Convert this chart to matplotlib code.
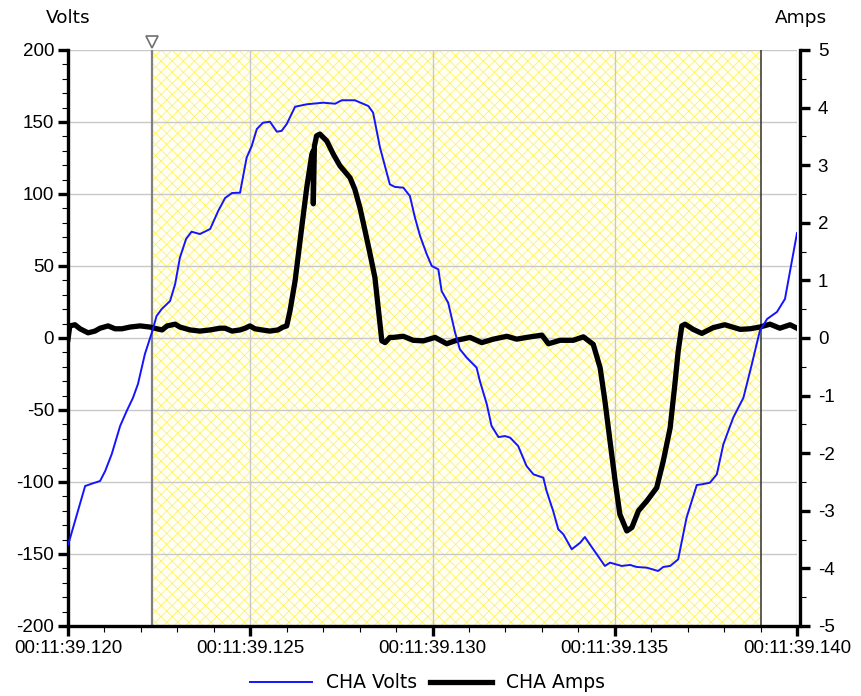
import matplotlib.pyplot as plt
import matplotlib.transforms as mtransforms

# time in ms after 00:11:39.120
volts_t = [0.01, 0.47, 0.65, 0.88, 1.02, 1.20, 1.43, 1.61, 1.78, 1.92, 2.11, 2.30, 2.43, 2.57,
           2.80, 2.94, 3.07, 3.24, 3.39, 3.62, 3.90, 4.12, 4.31, 4.50, 4.72, 4.90, 5.04, 5.18,
           5.35, 5.54, 5.73, 5.86, 6.00, 6.23, 6.55, 7.00, 7.33, 7.51, 7.87, 8.24, 8.37, 8.56,
           8.83, 8.97, 9.20, 9.38, 9.52, 9.66, 9.84, 9.98, 10.16, 10.25, 10.43, 10.62, 10.75,
           10.94, 11.21, 11.30, 11.49, 11.62, 11.81, 11.99, 12.13, 12.35, 12.58, 12.77, 13.04,
           13.13, 13.31, 13.45, 13.59, 13.82, 14.05, 14.18, 14.41, 14.73, 14.87, 15.19, 15.42,
           15.60, 15.88, 16.19, 16.33, 16.52, 16.74, 16.97, 17.25, 17.39, 17.61, 17.80, 17.98,
           18.25, 18.53, 18.76, 18.98, 19.18, 19.45, 19.67, 20.0]
volts = [-143.1, -102.8, -101.2, -99.3, -92.4, -80.6, -61.1, -50.7, -41.7, -31.9, -11.1, 3.7,
         15.3, 20.1, 25.7, 37.5, 55.8, 68.8, 73.8, 72.2, 75.7, 88.2, 97.2, 100.7, 100.9, 125.2,
         133.3, 145.1, 149.5, 150.2, 143.3, 143.8, 148.6, 160.6, 162.3, 163.4, 162.7, 165.1,
         165.1, 161.1, 156.5, 132.2, 106.7, 104.9, 104.4, 98.6, 83.5, 70.8, 58.3, 50.0, 47.7,
         32.6, 24.5, 3.7, -7.8, -13.7, -20.6, -29.9, -46.0, -61.1, -68.8, -68.1, -69.2, -75.0,
         -88.9, -94.7, -97.0, -106.3, -120.1, -132.8, -136.3, -146.7, -142.2, -138.2, -146.7,
         -158.3, -156.0, -158.3, -157.6, -159.0, -159.5, -161.8, -159.0, -158.3, -153.7, -124.8,
         -102.1, -101.6, -100.5, -94.7, -73.8, -55.3, -41.5, -18.3, 4.9, 13.2, 18.1, 27.1, 72.9]

amps_t = [0.0, 0.05, 0.19, 0.33, 0.55, 0.74, 0.88, 1.10, 1.29, 1.48, 1.70, 1.98, 2.25, 2.44,
          2.58, 2.72, 2.94, 3.07, 3.35, 3.62, 3.90, 4.17, 4.31, 4.50, 4.72, 4.86, 4.99, 5.13,
          5.32, 5.54, 5.76, 5.90, 6.00, 6.09, 6.23, 6.41, 6.55, 6.69, 6.73, 6.73, 6.76, 6.82,
          6.91, 7.10, 7.28, 7.46, 7.74, 7.87, 8.01, 8.15, 8.29, 8.42, 8.51, 8.61, 8.70, 8.83,
          8.92, 9.20, 9.47, 9.75, 10.07, 10.39, 10.66, 11.03, 11.35, 11.67, 12.04, 12.31, 12.58,
          13.00, 13.18, 13.50, 13.86, 14.14, 14.41, 14.60, 14.73, 14.87, 15.01, 15.14, 15.33,
          15.47, 15.65, 15.88, 16.15, 16.33, 16.52, 16.65, 16.74, 16.84, 16.93, 17.15, 17.39,
          17.70, 18.02, 18.44, 18.71, 18.98, 19.26, 19.53, 19.81, 20.0]
amps = [-0.02, 0.21, 0.23, 0.16, 0.09, 0.12, 0.17, 0.21, 0.16, 0.16, 0.19, 0.21, 0.19, 0.16,
        0.14, 0.21, 0.24, 0.19, 0.14, 0.12, 0.14, 0.17, 0.17, 0.12, 0.14, 0.17, 0.21, 0.16,
        0.14, 0.12, 0.14, 0.19, 0.21, 0.47, 0.99, 1.91, 2.61, 3.19, 3.25, 2.33, 3.33, 3.51,
        3.54, 3.42, 3.19, 2.99, 2.78, 2.58, 2.26, 1.86, 1.45, 1.05, 0.53, -0.05, -0.08, 0.01,
        0.01, 0.03, -0.04, -0.05, 0.01, -0.10, -0.04, 0.01, -0.08, -0.02, 0.03, -0.02, 0.01,
        0.05, -0.10, -0.04, -0.04, 0.02, -0.11, -0.52, -1.09, -1.79, -2.48, -3.06, -3.35,
        -3.29, -3.00, -2.83, -2.60, -2.14, -1.56, -0.80, -0.23, 0.21, 0.24, 0.15, 0.08,
        0.18, 0.23, 0.15, 0.16, 0.19, 0.24, 0.17, 0.23, 0.17]

x_ticks = [0, 5, 10, 15, 20]
x_tick_labels = ['00:11:39.120', '00:11:39.125', '00:11:39.130', '00:11:39.135', '00:11:39.140']
cursor_start = 2.30
cursor_end = 19.01

plt.rcParams['font.family'] = ['Liberation Sans', 'DejaVu Sans']
plt.rcParams['axes.unicode_minus'] = False
plt.rcParams['hatch.linewidth'] = 0.5

fig = plt.figure(figsize=(8.61, 6.96), dpi=100)
ax = fig.add_axes([68 / 861, 70 / 696, 729 / 861, 576 / 696])
ax2 = ax.twinx()

# shaded cursor region
ax.axvspan(cursor_start, cursor_end, facecolor='#FFFFF2', edgecolor='#FFF050',
           hatch='xxx', linewidth=0, zorder=0.2)
ax.axvline(cursor_start, color='#808080', lw=1.6, zorder=1)
ax.axvline(cursor_end, color='#303030', lw=1.1, zorder=1)
ax.plot([cursor_start], [1.014], marker='v', ms=8, mfc='white', mec='#707070', mew=1.2,
        transform=mtransforms.blended_transform_factory(ax.transData, ax.transAxes),
        clip_on=False)

ax.set_xlim(0, 20)
ax.set_ylim(-200, 200)
ax2.set_ylim(-5, 5)
ax.set_xticks(x_ticks)
ax.set_xticklabels(x_tick_labels)
ax.set_xticks(range(0, 21), minor=True)
ax.set_yticks(range(-200, 201, 50))
ax.set_yticks(range(-200, 201, 10), minor=True)
ax2.set_yticks(range(-5, 6))
ax2.set_yticks([v / 2 for v in range(-10, 11)], minor=True)

ax.set_axisbelow(True)
ax.grid(True, color='#C8C8C8', lw=1.0)

ax2.plot(amps_t, amps, color='black', lw=3.8, solid_joinstyle='round', zorder=2,
         label='CHA Amps')
ax2.plot(volts_t, volts, color='#1414FF', lw=1.4, zorder=3, transform=ax.transData,
         label='CHA Volts')

for a in (ax, ax2):
    for s in a.spines.values():
        s.set_visible(False)
ax.spines['left'].set_visible(True)
ax.spines['bottom'].set_visible(True)
ax2.spines['right'].set_visible(True)
ax.spines['left'].set_linewidth(2.4)
ax.spines['bottom'].set_linewidth(2.4)
ax2.spines['right'].set_linewidth(2.4)
ax2.spines['right'].set_position(('outward', 2))

ax.tick_params(axis='both', which='major', length=7, width=2.4, labelsize=13.5, pad=3)
ax.tick_params(axis='both', which='minor', length=4, width=0.8)
ax2.tick_params(axis='y', which='major', length=7, width=2.4, labelsize=13.5, pad=6)
ax2.tick_params(axis='y', which='minor', length=4, width=0.8)

fig.text(46 / 861, 1 - 18 / 696, 'Volts', fontsize=13.3, va='center', ha='left',
         family='DejaVu Sans')
fig.text(775 / 861, 1 - 18 / 696, 'Amps', fontsize=13.3, va='center', ha='left',
         family='DejaVu Sans')

h1, l1 = ax2.get_legend_handles_labels()
fig.legend(h1[::-1], l1[::-1], loc='center', bbox_to_anchor=(0.4965, 0.0187), ncol=2,
           frameon=False, handlelength=3.3, handletextpad=0.75, columnspacing=0.7,
           prop={'family': 'DejaVu Sans', 'size': 13.5})

fig.savefig('out.png', dpi=100)
